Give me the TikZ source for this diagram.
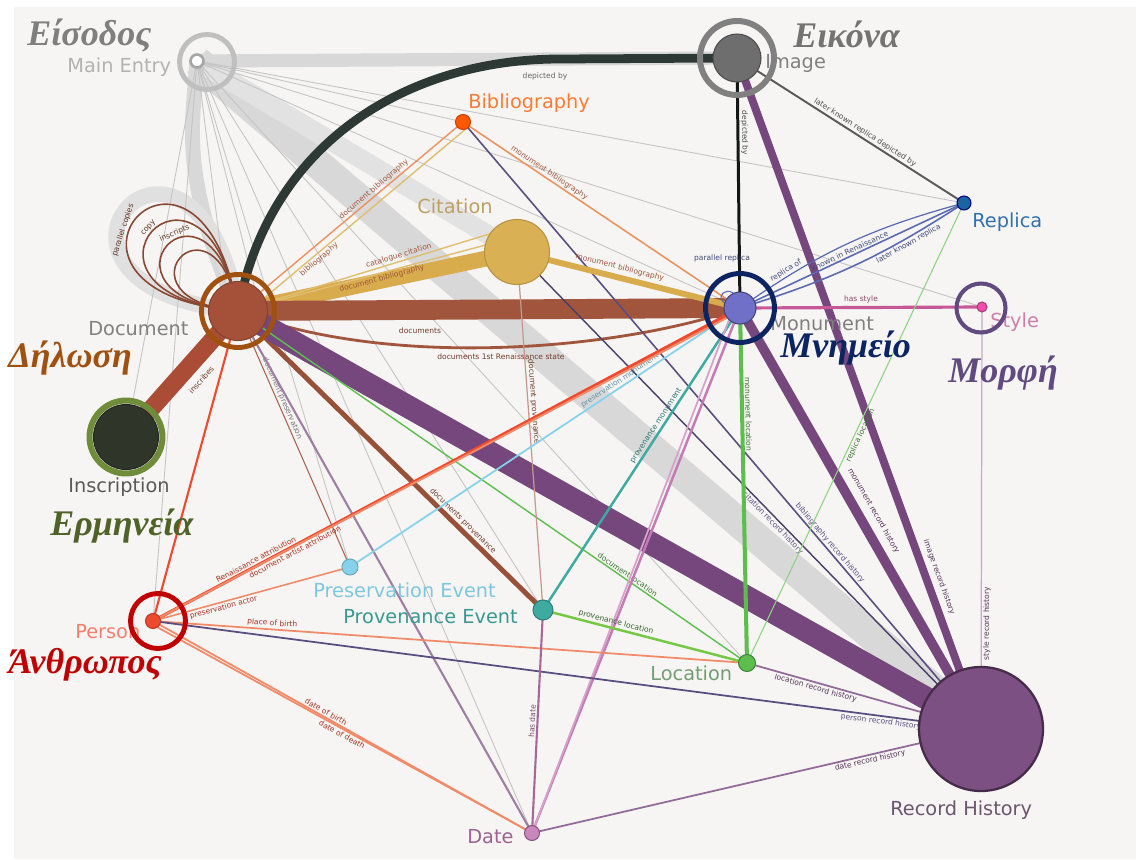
\documentclass[tikz,border=0pt]{standalone}
\usepackage{fontspec}
\setmainfont{DejaVu Sans}
\newfontfamily\grk{Liberation Serif}
\usetikzlibrary{calc}
\pgfdeclarelayer{paper}
\pgfdeclarelayer{edges}
\pgfsetlayers{paper,edges,main}
\definecolor{cPaper}{HTML}{F6F5F3}
\definecolor{cBand}{HTML}{D8D8D8}
\definecolor{cThin}{HTML}{C4C4C4}
\definecolor{cBrown}{HTML}{A0553C}
\definecolor{cPurp}{HTML}{76477C}
\definecolor{cGold}{HTML}{D8AC4C}
\definecolor{cDark}{HTML}{2C3935}
\definecolor{cRed}{HTML}{EE4A30}
\definecolor{cOrange}{HTML}{F08A68}
\definecolor{cPink}{HTML}{C47AB4}
\definecolor{cGreen}{HTML}{5DBE4E}
\definecolor{cTeal}{HTML}{3FAAA0}
\definecolor{cLBlue}{HTML}{86D2EA}
\definecolor{cNavyL}{HTML}{5A4E80}
\definecolor{cBlueL}{HTML}{5A6AB0}
\definecolor{cIns}{HTML}{2F3629}
\definecolor{cMon}{HTML}{7070C8}
\definecolor{gEis}{HTML}{7F7F7F}
\definecolor{gEik}{HTML}{737373}
\definecolor{gDil}{HTML}{A0500F}
\definecolor{gErm}{HTML}{4F6228}
\definecolor{gErmRing}{HTML}{6E8C3A}
\definecolor{gMni}{HTML}{0C2462}
\definecolor{gMor}{HTML}{604A80}
\definecolor{gAnt}{HTML}{C00000}
\begin{document}
\begin{tikzpicture}[x=0.02cm,y=-0.02cm,
  lab/.style={font=\fontsize{11}{13}\selectfont, anchor=base west, inner sep=0pt},
  grk/.style={font=\grk\bfseries\itshape\fontsize{20.5}{24}\selectfont, anchor=base west, inner sep=0pt},
  el/.style={font=\fontsize{4.3}{5}\selectfont, sloped, inner sep=0.8pt},
  fl/.style={font=\fontsize{4.3}{5}\selectfont, inner sep=0.8pt},
  ring/.style={circle, draw=#1, fill=none, inner sep=0pt},
  dot/.style={circle, inner sep=0pt, line width=0.6pt}]
\path[use as bounding box] (0,0) rectangle (1136,859);
\begin{pgfonlayer}{paper}
\fill[white] (0,0) rectangle (1136,859);
\fill[cPaper] (14,7) rectangle (1136,859);
\end{pgfonlayer}
% ---------- nodes ----------
\node[dot, minimum size=0.26cm, fill=white, draw=black!35, line width=1.5pt] (me) at (197,61) {};
\node[dot, minimum size=0.96cm, fill=black!57, draw=black!70] (img) at (737,58) {};
\node[dot, minimum size=0.3cm, fill=orange!70!red, draw=orange!60!red!80!black] (bib) at (463,122) {};
\node[dot, minimum size=1.3cm, fill=cGold!95!white, draw=cGold!85!black] (cit) at (517,252) {};
\node[dot, minimum size=0.28cm, fill=blue!45!cyan!60!black!90, draw=blue!50!black] (rep) at (964,203) {};
\node[dot, minimum size=1.18cm, fill=cBrown!95!red, draw=cBrown!80!black] (doc) at (238,311) {};
\node[dot, minimum size=0.64cm, fill=cMon, draw=cMon!60!black] (mon) at (740,308) {};
\node[dot, minimum size=0.2cm, fill=magenta!70!white, draw=magenta!60!black] (sty) at (982,307) {};
\node[dot, minimum size=1.3cm, fill=cIns, draw=black!85] (ins) at (126,437) {};
\node[dot, minimum size=0.32cm, fill=cLBlue, draw=cLBlue!80!black] (pres) at (350,567) {};
\node[dot, minimum size=0.4cm, fill=cTeal, draw=cTeal!75!black] (prov) at (543,610) {};
\node[dot, minimum size=0.3cm, fill=cRed, draw=cRed!80!black] (per) at (153,621) {};
\node[dot, minimum size=0.34cm, fill=cGreen, draw=cGreen!70!black] (loc) at (747,663) {};
\node[dot, minimum size=0.3cm, fill=cPink!90!white, draw=cPink!70!black] (date) at (532,833) {};
\node[dot, minimum size=2.48cm, fill=cPurp!95!white, draw=cPurp!60!black, line width=1.3pt] (rh) at (981,729) {};
% ---------- connectors ----------
\begin{pgfonlayer}{edges}
% wide grey bands from Main Entry
\draw[cBand, line width=17pt] (me.center) -- (rh.center);
\draw[cBand!75!white, line width=11pt] (me.center) -- (cit.center);
\draw[cBand, line width=7.5pt] (me.center) -- (img.center);
\draw[cBand, line width=8.5pt] (me.center) .. controls (192,130) and (180,175) .. (doc.center);
\draw[cBand!80!white, line width=9pt] (doc.center) .. controls +(-250,-25) and +(-45,-250) .. (doc.center);
% thin grey lines from Main Entry
\foreach \t in {rep,mon,sty,bib,loc,prov,pres,date,per,ins}
  \draw[cThin, line width=0.5pt] (me.center) -- (\t.center);
\draw[cThin, line width=0.5pt] (me.center) -- ($(doc.center)+(20,-10)$);
\draw[cThin, line width=0.5pt] (me.center) -- ($(doc.center)+(-10,-5)$);
% Image
\draw[cDark, line width=5pt] (img.center) -- (560,59) .. controls (405,59) and (268,145) .. (doc.center);
\node[fl, text=black!60] (e1) at (545,76) {depicted by};
\draw[black!60!cDark, line width=1.7pt] (img.center) -- node[el, above, pos=0.3, text=black!70] (e2) {depicted by} (mon.center);
\draw[cPurp, line width=4.5pt] (img.center) -- node[el, above=2pt, pos=0.78, text=cPurp!70!black] (e3) {image record history} (rh.center);
\draw[black!65, line width=1.1pt] (img.center) -- node[el, above, pos=0.55, text=black!70] (e4) {later known replica depicted by} (rep.center);
% Document
\draw[cGold, line width=9pt] (doc.center) -- (cit.center);
\draw[cGold!80!white, line width=0.8pt] (doc.center) -- node[el, above, pos=0.6, text=cBrown] (e5) {catalogue citation} ($(cit.center)+(-8,-24)$);
\draw[cGold!80!white, line width=0.8pt] (doc.center) -- node[el, below, pos=0.55, text=cBrown] (e6) {document bibliography} ($(cit.center)+(-20,-10)$);
\draw[cOrange!80!cGold, line width=0.8pt] (doc.center) -- node[el, above, pos=0.62, text=cBrown] (e7) {document bibliography} (bib.center);
\draw[cGold!80!white, line width=0.8pt] ($(doc.center)+(6,4)$) -- node[el, below, pos=0.32, text=cBrown] (e8) {bibliography} ($(bib.center)+(4,6)$);
\draw[cBrown, line width=11.3pt] (doc.center) -- (mon.center);
\node[fl, text=cBrown!70!black] (e9) at (420,331) {documents};
\draw[cBrown, line width=1.6pt] (doc.center) .. controls (390,370) and (620,350) .. node[pos=0.5, below=2pt, fl, text=cBrown!70!black] (e10) {documents 1st Renaissance state} (mon.center);
\draw[cBrown!95!black, line width=2.8pt] (doc.center) -- node[el, above, pos=0.72, text=cBrown!70!black] (e11) {documents provenance} (prov.center);
\draw[cPurp, line width=13pt] (doc.center) -- (rh.center);
\draw[cBrown!90!red, line width=10pt] (doc.center) -- node[el, below=3pt, pos=0.45, text=cBrown!70!black] (e12) {inscribes} (ins.center);
\draw[cRed, line width=1.2pt] (doc.center) -- (per.center);
\draw[black!30!cOrange, line width=0.6pt] (doc.center) -- node[el, above, pos=0.35, text=black!55] (e13) {document preservation} (pres.center);
\draw[cPurp!70!white, line width=1.2pt] (doc.center) -- (date.center);
\draw[cGreen, line width=0.8pt] (doc.center) -- node[el, above, pos=0.76, text=cGreen!60!black] (e14) {document location} (loc.center);
\foreach \i in {1,0.85,0.7,0.57}
  \draw[cBrown!85!black, line width=0.9pt] (doc.center) .. controls +(-230*\i,-20*\i) and +(-40*\i,-230*\i) .. (doc.center);
\path (doc.center) .. controls +(-230,-20) and +(-40,-230) .. node[el, pos=0.42, above, text=cBrown!60!black] (e15) {parallel copies} (doc.center);
\path (doc.center) .. controls +(-195,-17) and +(-34,-195) .. node[el, pos=0.5, above, text=cBrown!60!black] (e16) {copy} (doc.center);
\path (doc.center) .. controls +(-161,-14) and +(-28,-161) .. node[el, pos=0.58, above, text=cBrown!60!black] (e17) {inscripts} (doc.center);
% Bibliography, Citation
\draw[cOrange!70!cGold, line width=0.9pt] (bib.center) -- node[el, above, pos=0.3, text=cBrown] (e18) {monument bibliography} (mon.center);
\draw[cNavyL, line width=0.9pt] (bib.center) -- node[el, above, pos=0.7, text=cNavyL] (e19) {bibliography record history} (rh.center);
\draw[cGold, line width=3.4pt] (cit.center) -- node[el, above=1pt, pos=0.45, text=cBrown] (e20) {monument bibliography} (mon.center);
\draw[cNavyL!80!black, line width=0.8pt] (cit.center) -- node[el, below, pos=0.56, text=cNavyL] (e21) {citation record history} (rh.center);
\draw[cBrown!60!white, line width=0.7pt] (cit.center) -- node[el, above, pos=0.42, text=cBrown!70!black] (e22) {document provenance} (prov.center);
% Monument
\draw[magenta!55!cPurp!90!white, line width=1.8pt] (mon.center) -- node[el, above=1pt, pos=0.5, text=magenta!50!black] (e23) {has style} (sty.center);
\draw[cBlueL, line width=0.9pt] (mon.center) -- node[el, above, pos=0.5, text=cBlueL!70!black] (e24) {known in Renaissance} (rep.center);
\draw[cBlueL, line width=0.9pt] (mon.center) to[bend right=8] node[el, below, pos=0.74, text=cBlueL!70!black] (e25) {later known replica} (rep.center);
\draw[cBlueL, line width=0.7pt] (mon.center) to[bend left=10] node[el, above, pos=0.22, text=cBlueL!70!black] (e26) {replica of} (rep.center);
\draw[cBlueL, line width=0.6pt] (mon.center) .. controls +(-40,-5) and +(-5,-35) .. (mon.center);
\node[fl, text=cBlueL!70!black] (e27) at (722,258) {parallel replica};
\draw[cGreen, line width=2.3pt] (mon.center) -- node[el, above, pos=0.3, text=cGreen!60!black] (e28) {monument location} (loc.center);
\draw[cPurp, line width=5.5pt] (mon.center) -- node[el, above=3pt, pos=0.5, text=cPurp!70!black] (e29) {monument record history} (rh.center);
\draw[cLBlue, line width=1pt] (mon.center) -- node[el, above, pos=0.3, text=cLBlue!70!black] (e30) {preservation monument} (pres.center);
\draw[cTeal, line width=1.4pt] (mon.center) -- node[el, above, pos=0.4, text=cTeal!70!black] (e31) {provenance monument} (prov.center);
\draw[cPink, line width=1.4pt] (mon.center) -- (date.center);
\draw[cPink!70!white, line width=1pt] ($(mon.center)+(-8,4)$) -- (date.center);
% Replica, Style
\draw[cGreen!70!white, line width=0.6pt] (rep.center) -- node[el, below, pos=0.5, text=cGreen!60!black] (e33) {replica location} (loc.center);
\draw[cPurp!45!white, line width=0.7pt] (sty.center) -- node[el, below, pos=0.75, text=cPurp!70!black] (e34) {style record history} (rh.center);
% Person
\draw[cRed, line width=1.8pt] (per.center) -- node[el, above, pos=0.18, text=cRed!70!black] (e35) {Renaissance attribution} (mon.center);
\draw[cOrange, line width=1.1pt] (per.center) -- node[el, below, pos=0.24, text=cRed!70!black] (e36) {document artist attribution} ($(mon.center)+(-6,6)$);
\draw[cOrange, line width=0.9pt] (per.center) -- node[el, below, pos=0.35, text=cRed!70!black] (e37) {preservation actor} (pres.center);
\draw[cOrange, line width=1pt] (per.center) -- node[el, above, pos=0.2, text=cRed!70!black] (e38) {place of birth} (loc.center);
\draw[cNavyL, line width=1pt] (per.center) -- node[el, below, pos=0.88, text=cNavyL] (e39) {person record history} (rh.center);
\draw[cOrange, line width=1pt] (per.center) -- node[el, above, pos=0.45, text=cRed!70!black] (e40) {date of birth} (date.center);
\draw[cOrange, line width=1pt] ($(per.center)+(4,6)$) -- node[el, below, pos=0.5, text=cRed!70!black] (e41) {date of death} (date.center);
% Provenance, Location, Date
\draw[cGreen!85!yellow, line width=1.4pt] (prov.center) -- node[el, above, pos=0.35, text=cGreen!50!black] (e42) {provenance location} (loc.center);
\draw[cPink!85!black, line width=1.2pt] (prov.center) -- node[el, above, pos=0.5, text=cPink!60!black] (e43) {has date} (date.center);
\draw[cPurp!80!white, line width=1pt] (loc.center) -- node[el, below, pos=0.3, text=cPurp!70!black] (e44) {location record history} (rh.center);
\draw[cPurp!80!white, line width=1pt] (date.center) -- node[el, below, pos=0.75, text=cPurp!70!black] (e45) {date record history} (rh.center);
\end{pgfonlayer}
% ---------- labels ----------
\node[lab, text=black!30] (tME) at (67,72) {Main Entry};
\node[lab, text=black!50] (tImg) at (765,68) {Image};
\node[lab, text=orange!70!red!80!white] (tBib) at (468,108) {Bibliography};
\node[lab, text=cGold!80!black!80!white] (tCit) at (417,213) {Citation};
\node[lab, text=blue!50!cyan!60!black!80!white] (tRep) at (972,227) {Replica};
\node[lab, text=black!50] (tDoc) at (88,335) {Document};
\node[lab, text=black!50] (tMon) at (770,330) {Monument};
\node[lab, text=magenta!50!white!80!black] (tSty) at (990,327) {Style};
\node[lab, text=black!65] (tIns) at (68,492) {Inscription};
\node[lab, text=cLBlue!95!black] (tPres) at (313,597) {Preservation Event};
\node[lab, text=cTeal!90!black] (tProv) at (343,623) {Provenance Event};
\node[lab, text=cRed!70!white] (tPer) at (75,638) {Person};
\node[lab, text=green!30!black!55] (tLoc) at (650,680) {Location};
\node[lab, text=cPink!80!black] (tDate) at (467,843) {Date};
\node[lab, text=cPurp!60!black!80!white] (tRH) at (890,815) {Record History};
% ---------- overlay rings ----------
\node[ring=black!25, minimum size=1.1cm, line width=2.8pt] (rME) at (207,62) {};
\node[ring=black!50, minimum size=1.48cm, line width=3.4pt] (rImg) at (737,58) {};
\node[ring=gDil, minimum size=1.46cm, line width=2.8pt] (rDoc) at (238,311) {};
\node[ring=gErmRing, minimum size=1.46cm, line width=3.4pt] (rIns) at (126,437) {};
\node[ring=gMni, minimum size=1.38cm, line width=2.8pt] (rMon) at (740,308) {};
\node[ring=gMor, minimum size=0.98cm, line width=2.3pt] (rSty) at (981,308) {};
\node[ring=gAnt, minimum size=1.1cm, line width=2.8pt] (rPer) at (158,621) {};
% ---------- Greek labels ----------
\node[grk, text=gEis] (gE1) at (27,45) {Είσοδος};
\node[grk, text=gEik] (gE2) at (793,47) {Εικόνα};
\node[grk, text=gDil] (gE3) at (8,367) {Δήλωση};
\node[grk, text=gMni] (gE4) at (780,357) {Μνημείο};
\node[grk, text=gMor] (gE5) at (948,382) {Μορφή};
\node[grk, text=gErm] (gE6) at (50,535) {Ερμηνεία};
\node[grk, text=gAnt] (gE7) at (8,673) {Άνθρωπος};
\end{tikzpicture}
\end{document}
